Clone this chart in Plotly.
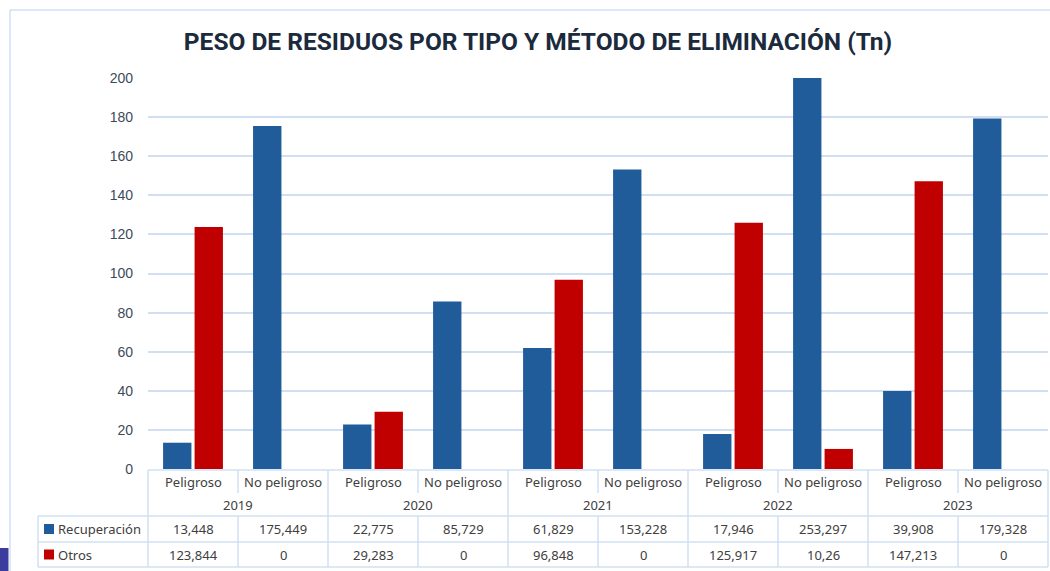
import plotly.graph_objects as go

# Data (Tn)
years = ['2019', '2020', '2021', '2022', '2023']
tipos = ['Peligroso', 'No peligroso']
recuperacion = [13.448, 175.449, 22.775, 85.729, 61.829, 153.228, 17.946, 253.297, 39.908, 179.328]
otros = [123.844, 0, 29.283, 0, 96.848, 0, 125.917, 10.26, 147.213, 0]
series_names = ['Recuperación', 'Otros']
series_colors = ['#1F5C99', '#C00000']

categories = [f'{y} {t}' for y in years for t in tipos]
sub_labels = [t for y in years for t in tipos]

W, H = 1050, 571
L, R, T, B = 148, 2, 78, 102
PW, PH = W - L - R, H - T - B

GRID = '#D0E0F2'
TEXT = '#404040'
FONT = 'Noto Sans'


def xp(px):
    return (px - L) / PW


def yp(px):
    return (H - B - px) / PH


def fmt(v):
    return f'{v:g}'.replace('.', ',')


def label(x, y, text, xref='x', xanchor='center'):
    return dict(x=x, xref=xref, y=yp(y), yref='paper', text=text,
                xanchor=xanchor, yanchor='middle', showarrow=False,
                font=dict(family=FONT, size=13, color=TEXT))


fig = go.Figure()
for name, vals, col in zip(series_names, [recuperacion, otros], series_colors):
    fig.add_trace(go.Bar(x=categories, y=vals, name=name, marker_color=col,
                         marker_line_width=0, showlegend=False))

shapes = []
annotations = []


def line(x0, y0, x1, y1, color=GRID, width=1.5):
    shapes.append(dict(type='line', xref='paper', yref='paper',
                       x0=xp(x0), y0=yp(y0), x1=xp(x1), y1=yp(y1),
                       line=dict(color=color, width=width)))


# chart frame
line(10, 10, 1050, 10)
line(10, 10, 10, 571)

# data table grid
n = len(categories)
colw = PW / n
right = L + n * colw
line(L, 470, right, 470)
line(38, 516, right, 516)
line(38, 542, right, 542)
line(38, 567, right, 567)
line(38, 516, 38, 567)
for k in range(n + 1):
    xk = L + k * colw
    if k % 2 == 0:
        line(xk, 470, xk, 567)
    else:
        line(xk, 470, xk, 493)
        line(xk, 516, xk, 567)

# sub-category and year labels
for c, s in zip(categories, sub_labels):
    annotations.append(label(c, 482, s))
for j, y in enumerate(years):
    annotations.append(label(2 * j + 0.5, 505, y))

# value rows with legend keys
for r, (name, vals, col) in enumerate(zip(series_names, [recuperacion, otros], series_colors)):
    yc = 529 + r * 25.5
    shapes.append(dict(type='rect', xref='paper', yref='paper',
                       x0=xp(44), x1=xp(54), y0=yp(yc - 5), y1=yp(yc + 5),
                       fillcolor=col, line_width=0))
    annotations.append(label(xp(56), yc, name, xref='paper', xanchor='left'))
    for c, v in zip(categories, vals):
        annotations.append(label(c, yc, fmt(v)))

# small corner block
shapes.append(dict(type='rect', xref='paper', yref='paper',
                   x0=xp(0), x1=xp(8.5), y0=yp(548), y1=yp(571),
                   fillcolor='#3C3C9E', line_width=0))

fig.update_layout(
    width=W, height=H,
    margin=dict(l=L, r=R, t=T, b=B),
    paper_bgcolor='white', plot_bgcolor='white',
    barmode='group', bargap=0.3, bargroupgap=0.1,
    title=dict(text='<b>PESO DE RESIDUOS POR TIPO Y MÉTODO DE ELIMINACIÓN (Tn)</b>',
               x=538 / W, xref='container', xanchor='center',
               y=1 - 41 / H, yref='container', yanchor='middle',
               font=dict(family='Roboto', size=24.5, color='#1B2A3C')),
    xaxis=dict(type='category', categoryorder='array', categoryarray=categories,
               range=[-0.5, n - 0.5], showticklabels=False, showgrid=False,
               zeroline=False, showline=False, ticks=''),
    yaxis=dict(range=[0, 200], dtick=20, showgrid=True, gridcolor=GRID, gridwidth=1.5,
               zeroline=False, showline=False, ticks='', ticklabelstandoff=14,
               tickfont=dict(family='Liberation Sans', size=14, color='#3E4A5A')),
    shapes=shapes, annotations=annotations,
)

fig.write_html('out.html', config={'displayModeBar': False},
               post_script="document.body.style.margin='0';")
